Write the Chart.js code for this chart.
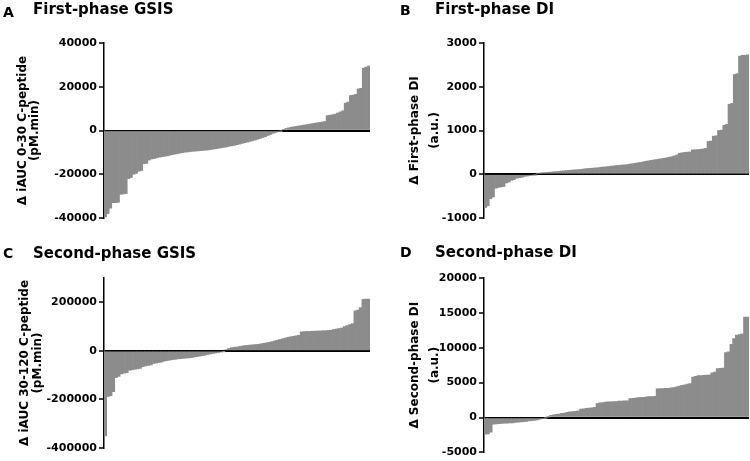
<!DOCTYPE html>
<html lang="en">
<head>
    <meta charset="UTF-8">
    <title>Change in insulin secretion and DI</title>
    <script src="https://cdn.jsdelivr.net/npm/chart.js"></script>
    <style>
        body { margin: 0; background: #fff; }
        .panel { position: absolute; }
    </style>
</head>
<body>
    <div class="panel" style="left:0;top:0"><canvas id="chartA" width="375" height="230"></canvas></div>
    <div class="panel" style="left:380px;top:0"><canvas id="chartB" width="370" height="230"></canvas></div>
    <div class="panel" style="left:0;top:230px"><canvas id="chartC" width="375" height="231"></canvas></div>
    <div class="panel" style="left:380px;top:230px"><canvas id="chartD" width="370" height="231"></canvas></div>
    <script>
        // sorted per-participant changes
        const firstGsis = [-39500, -38000, -35500, -33000, -33000, -32800, -29200, -29000, -28800, -22000, -21500, -20000, -19600, -18600, -18300, -15200, -15000, -13500, -13000, -12800, -12500, -12200, -12000, -11800, -11600, -11300, -11000, -10800, -10600, -10300, -10100, -9900, -9800, -9600, -9500, -9400, -9300, -9200, -9100, -9000, -8900, -8700, -8500, -8300, -8100, -7900, -7700, -7500, -7200, -7000, -6800, -6500, -6200, -5900, -5600, -5300, -5000, -4700, -4400, -4000, -3600, -3200, -2800, -2300, -1800, -1300, -900, -500, -200, 500, 900, 1200, 1500, 1700, 1900, 2100, 2300, 2500, 2700, 2900, 3100, 3300, 3500, 3700, 3900, 4100, 6800, 7000, 7200, 7500, 8000, 8500, 9000, 12500, 13000, 16000, 16200, 16500, 19000, 19300, 28500, 29000, 29500];
        const firstDi = [-760, -720, -560, -520, -320, -300, -290, -280, -200, -180, -140, -120, -90, -80, -70, -50, -40, -30, -20, -10, 20, 30, 35, 40, 45, 50, 55, 60, 65, 75, 80, 85, 90, 95, 100, 105, 110, 115, 125, 130, 135, 140, 145, 150, 160, 165, 170, 175, 185, 190, 200, 205, 210, 215, 220, 230, 240, 250, 260, 270, 280, 295, 305, 315, 325, 335, 345, 355, 365, 375, 390, 400, 420, 440, 480, 490, 500, 505, 510, 555, 560, 565, 570, 580, 590, 750, 760, 870, 880, 1000, 1010, 1120, 1140, 1600, 1620, 2280, 2300, 2700, 2720, 2720, 2730];
        const secondGsis = [-350000, -188000, -185000, -168000, -110000, -105000, -95000, -92000, -90000, -80000, -78000, -76000, -74000, -72000, -65000, -62000, -60000, -58000, -52000, -50000, -48000, -46000, -42000, -40000, -38000, -36000, -35000, -33000, -32000, -31000, -30000, -29000, -28000, -26000, -24000, -22000, -20000, -18000, -15000, -13000, -11000, -9000, -7000, -5000, -2000, 5000, 10000, 13000, 15000, 16000, 18000, 20000, 22000, 23000, 24000, 25000, 26000, 27000, 29000, 31000, 33000, 35000, 38000, 41000, 44000, 47000, 50000, 53000, 56000, 58000, 60000, 62000, 64000, 78000, 79000, 80000, 80000, 81000, 81000, 82000, 82000, 83000, 83000, 84000, 85000, 88000, 90000, 92000, 94000, 100000, 104000, 108000, 112000, 165000, 168000, 178000, 212000, 213000, 213000];
        const secondDi = [-2400, -2350, -2100, -950, -900, -880, -850, -820, -800, -780, -760, -720, -680, -640, -600, -560, -500, -450, -400, -350, -250, -150, -50, 50, 300, 400, 450, 500, 600, 650, 750, 800, 850, 900, 950, 1200, 1250, 1300, 1350, 1400, 1450, 2000, 2100, 2150, 2200, 2250, 2250, 2300, 2300, 2350, 2350, 2400, 2400, 2700, 2750, 2800, 2850, 2900, 2900, 2950, 3000, 3000, 3050, 4100, 4150, 4150, 4200, 4200, 4250, 4300, 4400, 4500, 4600, 4700, 4800, 4850, 5800, 5900, 6000, 6000, 6050, 6100, 6100, 6400, 6500, 7000, 7050, 7100, 9300, 9400, 10500, 11300, 11800, 11900, 12000, 14400, 14400];

        const ticksA = [-40000, -20000, 0, 20000, 40000];
        const ticksB = [-1000, 0, 1000, 2000, 3000];
        const ticksC = [-400000, -200000, 0, 200000];
        const ticksD = [-5000, 0, 5000, 10000, 15000, 20000];

        const FONT = 'DejaVu Sans';
        const BAR_GREY = '#8c8c8c';

        // panel letter + heading, drawn at fixed spots in each canvas
        const headingPlugin = {
            id: 'heading',
            afterDraw(chart, args, opts) {
                const ctx = chart.ctx;
                ctx.save();
                ctx.fillStyle = '#000';
                ctx.textBaseline = 'alphabetic';
                ctx.font = 'bold 14px "' + FONT + '"';
                ctx.fillText(opts.letter, opts.lx, opts.ly);
                ctx.font = 'bold 15px "' + FONT + '"';
                ctx.fillText(opts.text, opts.tx, opts.ty);
                ctx.restore();
            }
        };

        function makePanel(id, values, tickVals, yMin, yMax, yTitle, titleLine, titlePad, pad, heading) {
            new Chart(document.getElementById(id), {
                type: 'bar',
                data: {
                    labels: values.map((v, i) => i + 1),
                    datasets: [{
                        data: values,
                        backgroundColor: BAR_GREY,
                        borderWidth: 0,
                        barPercentage: 1,
                        categoryPercentage: 1
                    }]
                },
                options: {
                    responsive: false,
                    animation: false,
                    layout: { padding: pad },
                    plugins: {
                        legend: { display: false },
                        tooltip: { enabled: false },
                        heading: heading
                    },
                    scales: {
                        x: { display: false },
                        y: {
                            z: 1,
                            min: yMin,
                            max: yMax,
                            afterBuildTicks: s => { s.ticks = tickVals.map(v => ({ value: v })); },
                            afterFit: s => { s.width = 104; },
                            border: { display: true, color: '#000', width: 1.5 },
                            grid: {
                                color: c => c.tick && c.tick.value === 0 ? '#000' : 'rgba(0,0,0,0)',
                                lineWidth: 2,
                                tickColor: '#000',
                                tickWidth: 1.5,
                                tickLength: 5
                            },
                            ticks: {
                                color: '#000',
                                padding: 2,
                                font: { family: FONT, size: 11, weight: 'bold' },
                                callback: v => String(v)
                            },
                            title: {
                                display: true,
                                text: yTitle,
                                color: '#000',
                                padding: { top: titlePad, bottom: 0 },
                                font: { family: FONT, size: 12, weight: 'bold', lineHeight: titleLine }
                            }
                        }
                    }
                },
                plugins: [headingPlugin]
            });
        }

        makePanel('chartA', firstGsis, ticksA, -40000, 40000,
            ['\u0394 iAUC 0-30 C-peptide', '(pM.min)'], 1.0, 17,
            { top: 43, right: 5, bottom: 12, left: 0 },
            { letter: 'A', lx: 3, ly: 17, text: 'First-phase GSIS', tx: 33, ty: 14 });

        makePanel('chartB', firstDi, ticksB, -1000, 3000,
            ['\u0394 First-phase DI', '(a.u.)'], 20 / 12, 25,
            { top: 43, right: 1, bottom: 12, left: 0 },
            { letter: 'B', lx: 20, ly: 15, text: 'First-phase DI', tx: 55, ty: 14 });

        makePanel('chartC', secondGsis, ticksC, -400000, 300000,
            ['\u0394 iAUC 30-120 C-peptide', '(pM.min)'], 13 / 12, 18,
            { top: 48, right: 5, bottom: 13, left: 0 },
            { letter: 'C', lx: 3, ly: 28, text: 'Second-phase GSIS', tx: 33, ty: 28 });

        makePanel('chartD', secondDi, ticksD, -5000, 20000,
            ['\u0394 Second-phase DI', '(a.u.)'], 20 / 12, 25,
            { top: 48, right: 1, bottom: 6, left: 0 },
            { letter: 'D', lx: 20, ly: 27, text: 'Second-phase DI', tx: 55, ty: 27 });
    </script>
</body>
</html>
